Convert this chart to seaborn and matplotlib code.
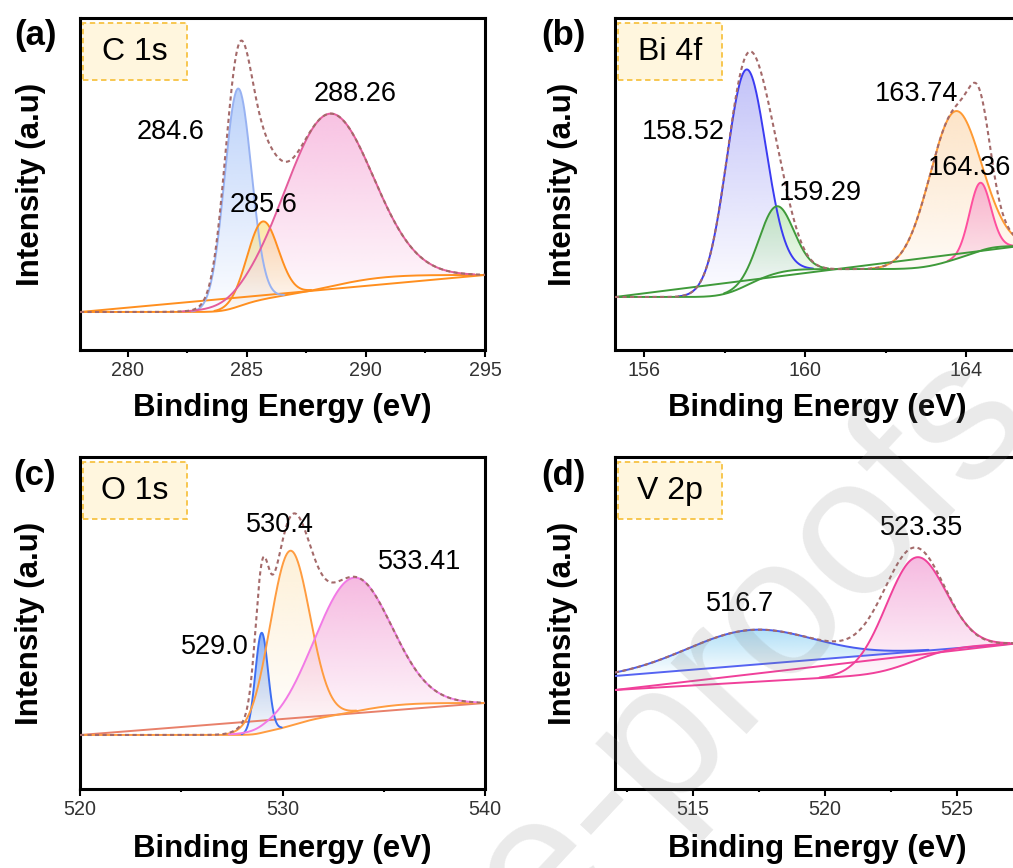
"""XPS high-resolution spectra (C 1s, Bi 4f, O 1s, V 2p) with fitted components."""

import numpy as np
import matplotlib
matplotlib.use("Agg")
import matplotlib.pyplot as plt
import matplotlib.colors as mcolors
from matplotlib.patches import PathPatch, Rectangle
from matplotlib.path import Path
from matplotlib.ticker import MultipleLocator
import seaborn as sns

# ---- C 1s (a) ----
C1S_RANGE = [278.0, 295.0]
C1S_CENTERS = [284.63, 285.67, 288.43]
C1S_HEIGHTS = [218, 78, 173]
C1S_FWHM = [1.33, 1.54, 4.3]
C1S_BG = [38, 75]
C1S_LABELS = ['284.6', '285.6', '288.26']
C1S_LABEL_X = [281.8, 285.7, 289.55]
C1S_LABEL_Y = [218, 145, 256]

# ---- Bi 4f (b) ----
BI4F_RANGE = [155.28, 165.33]
BI4F_CENTERS = [158.53, 159.28, 163.72, 164.34]
BI4F_HEIGHTS = [216, 67, 148, 68]
BI4F_FWHM = [1.15, 1.0, 1.49, 0.62]
BI4F_BG = [53, 104]
BI4F_LABELS = ['158.52', '159.29', '163.74', '164.36']
BI4F_LABEL_X = [156.97, 160.37, 162.77, 164.09]
BI4F_LABEL_Y = [218, 157, 256, 182]

# ---- O 1s (c) ----
O1S_RANGE = [520.0, 540.0]
O1S_CENTERS = [528.97, 530.37, 533.48]
O1S_HEIGHTS = [100, 175, 134]
O1S_FWHM = [0.74, 2.3, 4.4]
O1S_BG = [54, 86]
O1S_LABELS = ['529.0', '530.4', '533.41']
O1S_LABEL_X = [526.67, 529.88, 536.79]
O1S_LABEL_Y = [142, 264, 227]

# ---- V 2p (d) ----
V2P_RANGE = [512.05, 527.4]
V2P_CENTERS = [517.16, 523.41]
V2P_HEIGHTS = [35, 103]
V2P_FWHM = [5.6, 2.65]
V2P_BG_BLUE = [113, 146]
V2P_BG_PINK = [99, 146]
V2P_LABELS = ['516.7', '523.35']
V2P_LABEL_X = [516.78, 523.68]
V2P_LABEL_Y = [185, 261]

ENVELOPE_COLOR = '#a46a6a'

sns.set_style("ticks")
plt.rcParams['font.family'] = ['Liberation Sans', 'DejaVu Sans']
plt.rcParams['text.color'] = 'black'
plt.rcParams['axes.labelcolor'] = 'black'


def gauss(x, c, h, w):
    return h * np.exp(-4 * np.log(2) * (x - c) ** 2 / w ** 2)


def shirley(x, signal, ends, weight=1.0):
    cum = np.cumsum(signal)
    frac_s = cum / cum[-1]
    frac_l = (x - x[0]) / (x[-1] - x[0])
    return ends[0] + (ends[1] - ends[0]) * (weight * frac_s + (1 - weight) * frac_l)


def gradient_fill(ax, x, top, bottom, color, a_top=0.6, a_bot=0.02):
    verts = np.column_stack([np.r_[x, x[::-1]], np.r_[top, bottom[::-1]]])
    patch = PathPatch(Path(verts), facecolor='none', edgecolor='none')
    ax.add_patch(patch)
    grad = np.zeros((200, 1, 4))
    grad[:, :, :3] = mcolors.to_rgb(color)
    grad[:, 0, 3] = np.linspace(a_top, a_bot, 200)
    im = ax.imshow(grad, aspect='auto', origin='upper', interpolation='bilinear',
                   extent=[x.min(), x.max(), bottom.min(), top.max()], zorder=1)
    im.set_clip_path(patch)


def line(ax, x, y, color, lw=1.4, **kw):
    sns.lineplot(x=x, y=y, ax=ax, color=color, linewidth=lw, sort=False,
                 estimator=None, zorder=3, **kw)


def component(ax, x, base, g, color):
    # draw a fitted component only where it rises above its background
    m = g > 0.6
    line(ax, x[m], (base + g)[m], color)


def style_axis(ax, xr, major, minor, element, label_x, label_y):
    ax.set_xlim(xr)
    ax.set_ylim(0, 332)
    ax.xaxis.set_major_locator(MultipleLocator(major))
    ax.xaxis.set_minor_locator(MultipleLocator(minor))
    ax.set_yticks([])
    ax.tick_params(axis='x', which='major', direction='out', length=4.7, width=1.5,
                   pad=3.5, labelsize=14.2, labelcolor='#333333', color='black')
    ax.tick_params(axis='x', which='minor', direction='out', length=2.5, width=1.5,
                   color='black')
    for sp in ax.spines.values():
        sp.set_linewidth(2.2)
        sp.set_color('black')
        sp.set_visible(True)
    ax.set_xlabel('Binding Energy (eV)', fontsize=22.5, fontweight='bold')
    ax.set_ylabel('Intensity (a.u)', fontsize=22.5, fontweight='bold')
    ax.xaxis.set_label_coords(0.5, label_y)
    ax.yaxis.set_label_coords(label_x, 0.5)
    ax.add_patch(Rectangle((0.008, 0.813), 0.256, 0.172, transform=ax.transAxes,
                           facecolor='#fff6de', edgecolor='#f7c343', linewidth=1.3,
                           linestyle=(0, (3, 2)), zorder=4))
    ax.text(0.136, 0.899, element, transform=ax.transAxes, fontsize=23,
            ha='center', va='center', zorder=5)


def peak_labels(ax, labels, xs, ys):
    for t, lx, ly in zip(labels, xs, ys):
        ax.text(lx, ly, t, fontsize=19.5, ha='center', va='center', zorder=6)


fig = plt.figure(figsize=(10.13, 8.68), dpi=100)
W, H = 1013, 868
ax_a = fig.add_axes([80 / W, 1 - 350 / H, 405 / W, 332 / H])
ax_b = fig.add_axes([615 / W, 1 - 350 / H, 405 / W, 332 / H])
ax_c = fig.add_axes([80 / W, 1 - 789 / H, 405 / W, 332 / H])
ax_d = fig.add_axes([615 / W, 1 - 789 / H, 405 / W, 332 / H])

# (a) C 1s
x = np.linspace(C1S_RANGE[0], C1S_RANGE[1], 700)
comps = [gauss(x, c, h, w) for c, h, w in zip(C1S_CENTERS, C1S_HEIGHTS, C1S_FWHM)]
bg = shirley(x, sum(comps), C1S_BG)
lin = np.interp(x, C1S_RANGE, C1S_BG)
line_cols = ['#98b2f2', '#ff8f1f', '#e45c9c']
fill_cols = ['#8fb4f7', '#fbd96a', '#f49ad0']
for g, fc in zip(comps, fill_cols):
    gradient_fill(ax_a, x, bg + g, bg, fc)
line(ax_a, x, lin, '#ff8f1f')
line(ax_a, x, bg, '#ff8f1f')
for g, lc in zip(comps, line_cols):
    component(ax_a, x, bg, g, lc)
line(ax_a, x, bg + sum(comps), ENVELOPE_COLOR, lw=1.5, linestyle=(0, (2, 1.6)))
peak_labels(ax_a, C1S_LABELS, C1S_LABEL_X, C1S_LABEL_Y)
style_axis(ax_a, C1S_RANGE, 5, 2.5, 'C 1s', -0.084, -0.13)

# (b) Bi 4f
x = np.linspace(BI4F_RANGE[0], BI4F_RANGE[1], 700)
comps = [gauss(x, c, h, w) for c, h, w in zip(BI4F_CENTERS, BI4F_HEIGHTS, BI4F_FWHM)]
bg = shirley(x, sum(comps), BI4F_BG)
lin = np.interp(x, BI4F_RANGE, BI4F_BG)
line_cols = ['#3b3bf2', '#3f9a3a', '#ff9a33', '#ff4f9e']
fill_cols = ['#9a9af4', '#a6e09c', '#fcd3a4', '#f58cc6']
for g, fc in zip(comps, fill_cols):
    gradient_fill(ax_b, x, bg + g, bg, fc)
for g, lc in zip(comps, line_cols):
    component(ax_b, x, bg, g, lc)
line(ax_b, x, lin, '#3f9a3a')
line(ax_b, x, bg, '#3f9a3a')
line(ax_b, x, bg + sum(comps), ENVELOPE_COLOR, lw=1.5, linestyle=(0, (2, 1.6)))
peak_labels(ax_b, BI4F_LABELS, BI4F_LABEL_X, BI4F_LABEL_Y)
style_axis(ax_b, BI4F_RANGE, 4, 2, 'Bi 4f', -0.091, -0.13)

# (c) O 1s
x = np.linspace(O1S_RANGE[0], O1S_RANGE[1], 800)
comps = [gauss(x, c, h, w) for c, h, w in zip(O1S_CENTERS, O1S_HEIGHTS, O1S_FWHM)]
bg = shirley(x, sum(comps), O1S_BG)
lin = np.interp(x, O1S_RANGE, O1S_BG)
line_cols = ['#3d6ff2', '#ff9c40', '#f27ae6']
fill_cols = ['#3d7ff2', '#fde7bf', '#f08ccc']
for g, fc in zip(comps, fill_cols):
    gradient_fill(ax_c, x, bg + g, bg, fc)
line(ax_c, x, lin, '#e8806a')
line(ax_c, x, bg, '#ff9c40')
for g, lc in zip(comps, line_cols):
    component(ax_c, x, bg, g, lc)
line(ax_c, x, bg + sum(comps), ENVELOPE_COLOR, lw=1.5, linestyle=(0, (2, 1.6)))
peak_labels(ax_c, O1S_LABELS, O1S_LABEL_X, O1S_LABEL_Y)
style_axis(ax_c, O1S_RANGE, 10, 5, 'O 1s', -0.086, -0.137)

# (d) V 2p
x = np.linspace(V2P_RANGE[0], V2P_RANGE[1], 700)
g_blue = gauss(x, V2P_CENTERS[0], V2P_HEIGHTS[0], V2P_FWHM[0])
g_pink = gauss(x, V2P_CENTERS[1], V2P_HEIGHTS[1], V2P_FWHM[1])
bg_blue = np.interp(x, V2P_RANGE, V2P_BG_BLUE)
bg_pink = shirley(x, g_pink, V2P_BG_PINK, weight=0.5)
lin_pink = np.interp(x, V2P_RANGE, V2P_BG_PINK)
gradient_fill(ax_d, x, bg_blue + g_blue, bg_blue, '#7ccbf2')
gradient_fill(ax_d, x, bg_pink + g_pink, bg_pink, '#f08ccc')
line(ax_d, x, bg_blue, '#5563f2')
line(ax_d, x, lin_pink, '#f0409a')
line(ax_d, x, bg_pink, '#f0409a')
component(ax_d, x, bg_blue, g_blue, '#4a5cf0')
component(ax_d, x, bg_pink, g_pink, '#f0409a')
line(ax_d, x, bg_blue + g_blue + g_pink, ENVELOPE_COLOR, lw=1.5, linestyle=(0, (2, 1.6)))
peak_labels(ax_d, V2P_LABELS, V2P_LABEL_X, V2P_LABEL_Y)
style_axis(ax_d, V2P_RANGE, 5, 2.5, 'V 2p', -0.091, -0.137)

for lab, px, py in [('(a)', 35, 35), ('(b)', 563, 35), ('(c)', 35, 475), ('(d)', 563, 475)]:
    fig.text(px / W, 1 - py / H, lab, fontsize=25, fontweight='bold',
             ha='center', va='center')

# journal watermark
fig.text(1000 / W, 1 - 388 / H, 'Journal Pre-proofs', fontsize=142, color='#808080',
         alpha=0.17, rotation=47, rotation_mode='anchor', ha='right', va='center',
         zorder=10)

fig.savefig('out.png', dpi=100)
plt.close(fig)
